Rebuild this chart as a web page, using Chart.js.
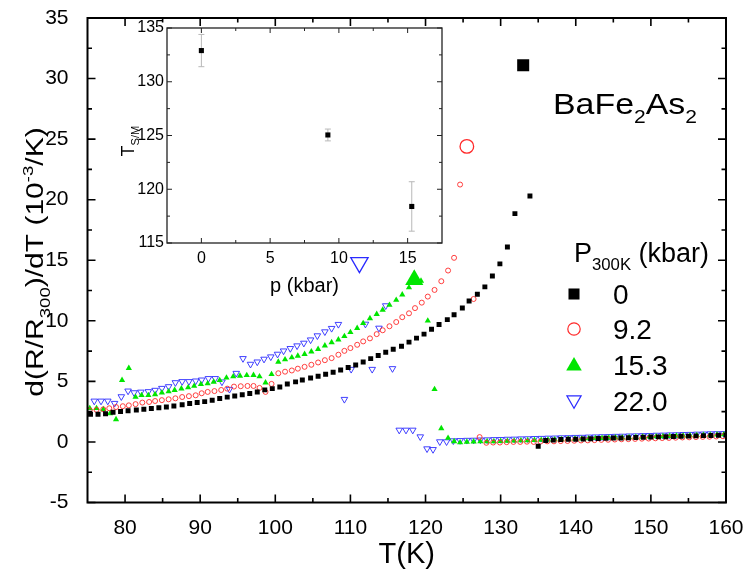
<!DOCTYPE html>
<html>
<head>
<meta charset="utf-8">
<script src="https://cdn.jsdelivr.net/npm/chart.js@4/dist/chart.umd.min.js"></script>
<style>
html,body{margin:0;padding:0;background:#fff;}
#wrap{position:relative;width:747px;height:572px;}
#wrap canvas{position:absolute;left:0;top:0;}
</style>
</head>
<body>
<div id="wrap">
<canvas id="main" width="747" height="572"></canvas>
<canvas id="inset" width="747" height="572"></canvas>
</div>
<script>
// ---------------- data ----------------
const xTicks = [80, 90, 100, 110, 120, 130, 140, 150, 160];
const yTicks = [-5, 0, 5, 10, 15, 20, 25, 30, 35];
const legendLabels = ['0', '9.2', '15.3', '22.0'];

// P = 0 kbar (black squares)
const blackT = [75.4,76.4,77.4,78.4,79.4,80.4,81.5,82.5,83.5,84.5,85.5,86.5,87.6,88.6,89.6,90.6,91.6,92.6,93.6,94.6,95.6,96.6,97.6,98.6,99.6,100.6,101.6,102.7,103.6,104.7,105.7,106.7,107.7,108.7,109.7,110.7,111.7,112.7,113.7,114.7,115.7,116.8,117.8,118.8,119.8,120.8,121.8,122.9,123.8,124.9,125.8,126.9,127.9,128.9,129.9,130.9,131.9,133.9,135.0,136.0,137.0,138.0,139.0,140.0,141.0,142.0,143.0,144.0,145.0,146.0,147.0,148.0,149.0,150.0,151.0,152.0,153.0,154.0,155.0,156.0,157.0,158.0,159.0,160.0];
const blackV = [2.28,2.28,2.33,2.45,2.52,2.58,2.63,2.7,2.76,2.82,2.88,2.97,3.07,3.17,3.25,3.33,3.44,3.58,3.7,3.8,3.9,4.0,4.13,4.3,4.4,4.54,4.78,4.96,5.12,5.28,5.43,5.58,5.75,5.94,6.14,6.36,6.6,6.88,7.14,7.4,7.66,7.9,8.24,8.57,8.9,9.3,9.7,10.1,10.5,11.06,11.64,12.2,12.8,13.7,14.7,16.1,18.85,20.3,-0.35,0.12,0.15,0.2,0.22,0.22,0.25,0.27,0.28,0.3,0.32,0.33,0.35,0.37,0.38,0.4,0.42,0.43,0.45,0.47,0.48,0.5,0.52,0.53,0.55,0.57];

// P = 9.2 kbar (red open circles)
const redT = [75.3,76.2,77.1,77.9,78.8,79.7,80.5,81.4,82.3,83.2,84.0,84.9,85.8,86.7,87.6,88.5,89.4,90.2,91.0,91.9,92.8,93.6,94.5,95.4,96.3,97.1,97.9,98.7,99.5,100.4,101.3,102.2,103.0,103.9,104.8,105.7,106.6,107.5,108.4,109.2,110.0,110.9,111.7,112.6,113.5,114.3,115.2,116.1,116.9,117.8,118.6,119.5,120.3,121.2,122.1,123.0,123.8,124.6,126.4,127.2,128.1,129.0,129.9,130.8,131.7,132.6,133.5,134.4,135.3,136.2,137.1,138.0,138.9,139.8,140.7,141.6,142.5,143.4,144.3,145.2,146.1,147.0,147.9,148.8,149.7,150.6,151.5,152.4,153.3,154.2,155.1,156.0,156.9,157.8,158.7,159.6];
const redV = [2.6,2.65,2.69,2.78,2.88,2.95,3.02,3.12,3.25,3.3,3.38,3.45,3.52,3.6,3.71,3.78,3.85,4.02,4.13,4.2,4.29,4.4,4.57,4.6,4.62,4.62,4.46,4.13,4.79,5.67,5.8,5.9,6.05,6.2,6.37,6.56,6.75,6.92,7.2,7.52,7.75,8.02,8.3,8.55,8.9,9.22,9.55,9.9,10.3,10.62,11.05,11.5,12.0,12.55,13.27,14.15,15.2,21.25,11.8,0.4,-0.07,-0.05,-0.05,-0.02,0.0,0.0,0.02,0.0,0.03,0.05,0.05,0.07,0.08,0.1,0.12,0.13,0.15,0.17,0.18,0.2,0.22,0.23,0.25,0.27,0.28,0.3,0.32,0.33,0.35,0.37,0.38,0.4,0.42,0.43,0.45,0.47];

// P = 15.3 kbar (green filled triangles)
const greenT = [75.3,76.2,77.1,78.0,78.8,79.6,80.5,81.4,82.2,83.1,84.0,84.9,85.8,86.6,87.5,88.4,89.2,90.1,91.0,91.8,92.6,93.5,94.4,95.3,96.2,97.1,97.9,98.7,99.5,100.4,101.3,102.2,103.0,103.9,104.8,105.7,106.6,107.5,108.4,109.2,110.0,110.9,111.7,112.6,113.5,114.3,115.2,116.1,116.9,117.8,118.6,119.4,120.3,121.2,122.1,123.0,123.8,124.6,125.5,126.4,127.3,128.2,129.1,130.0,130.9,131.8,132.7,133.6,134.5,135.4,136.3,137.2,138.1,139.0,139.9,140.8,141.7,142.6,143.5,144.4,145.3,146.2,147.1,148.0,148.9,149.8,150.7,151.6,152.5,153.4,154.3,155.2,156.1,157.0,157.9,158.8,159.7];
const greenV = [2.78,2.78,2.69,2.36,1.86,5.1,6.09,3.71,3.85,3.85,3.93,4.07,4.16,4.27,4.4,4.49,4.62,4.76,4.82,4.96,5.09,5.3,5.4,5.45,5.5,5.51,5.4,4.9,5.59,6.61,6.8,6.97,7.1,7.25,7.45,7.66,7.95,8.22,8.45,8.72,9.05,9.4,9.8,10.2,10.55,10.9,11.3,11.72,12.16,12.75,13.2,13.3,10.0,4.35,1.12,0.32,0.05,-0.05,0.0,0.02,0.03,0.05,0.05,0.07,0.08,0.1,0.12,0.13,0.15,0.16,0.18,0.2,0.21,0.23,0.25,0.26,0.28,0.3,0.31,0.33,0.35,0.36,0.38,0.4,0.41,0.43,0.45,0.46,0.48,0.5,0.51,0.53,0.55,0.56,0.58,0.6,0.61];

// P = 22.0 kbar (blue open down-triangles)
const blueT = [75.9,76.8,77.7,78.6,79.5,80.4,81.2,82.1,83.1,84.0,84.9,85.8,86.7,87.6,88.5,89.4,90.2,91.1,92.0,92.9,93.9,94.8,95.7,96.7,97.6,98.5,99.4,100.3,101.1,102.0,102.9,103.8,104.7,105.6,106.6,107.5,108.4,109.2,110.1,112.0,112.9,113.8,114.7,115.6,116.5,117.4,118.3,119.3,120.2,121.0,121.9,122.8,123.7,124.6,125.5,126.4,127.3,128.2,129.1,130.0,130.9,131.8,132.7,133.6,134.5,135.4,136.3,137.2,138.1,139.0,139.9,140.8,141.7,142.6,143.5,144.4,145.3,146.2,147.1,148.0,148.9,149.8,150.7,151.6,152.5,153.4,154.3,155.2,156.1,157.0,157.9,158.8,159.7];
const blueV = [3.38,3.38,3.38,3.19,3.74,4.21,4.07,4.12,4.16,4.27,4.43,4.57,4.9,4.99,4.99,5.04,5.12,5.24,5.24,4.96,4.35,5.67,6.89,6.42,6.61,6.84,7.03,7.25,7.52,7.72,7.94,8.16,8.43,8.77,9.1,9.38,9.71,3.52,6.0,9.73,6.0,9.4,11.25,6.06,0.98,0.98,0.98,0.43,-0.56,-0.62,0.02,0.02,0.1,0.12,0.14,0.15,0.17,0.18,0.2,0.21,0.23,0.24,0.26,0.27,0.29,0.3,0.32,0.33,0.35,0.36,0.38,0.39,0.41,0.42,0.44,0.45,0.47,0.48,0.5,0.51,0.53,0.54,0.56,0.57,0.59,0.6,0.62,0.63,0.65,0.66,0.68,0.69,0.7];

// large symbols marking the transition of each curve (0, 9.2, 15.3, 22.0 kbar)
const peakT = [133.0, 125.5, 118.5, 111.2];
const peakV = [31.1, 24.4, 13.4, 14.8];

// inset: T_S/M vs p
const insetXTicks = [0, 5, 10, 15];
const insetYTicks = [115, 120, 125, 130, 135];
const insetP = [0, 9.2, 15.3];
const insetTsm = [132.9, 125.05, 118.4];
const insetErr = [1.5, 0.55, 2.3];

// ---------------- helpers ----------------
const FAM = '"Liberation Sans", Arial, Helvetica, sans-serif';
const COL = { black: '#000000', red: '#ff2a2a', green: '#00e600', blue: '#2b2bff' };

function pts(t, v) { return t.map((x, i) => ({ x: x, y: v[i] })); }

// draws text with sub (1) / superscript (2) parts; sx, sy stretch glyphs
function richText(ctx, parts, x, y, size, align, sx, sy) {
  sx = sx || 1; sy = sy || 1;
  let w = 0;
  const m = parts.map(([t, mode]) => {
    const s = mode ? size * 0.62 : size;
    ctx.font = s + 'px ' + FAM;
    const mw = ctx.measureText(t).width;
    w += mw;
    return [t, mode, s, mw];
  });
  ctx.save();
  ctx.translate(x, y);
  ctx.scale(sx, sy);
  let cx = align === 'center' ? -w / 2 : align === 'right' ? -w : 0;
  ctx.textAlign = 'left';
  ctx.textBaseline = 'alphabetic';
  for (const [t, mode, s, mw] of m) {
    ctx.font = s + 'px ' + FAM;
    const dy = mode === 1 ? size * 0.3 : mode === 2 ? -size * 0.4 : 0;
    ctx.fillText(t, cx, dy);
    cx += mw;
  }
  ctx.restore();
}

function marker(ctx, style, x, y, r, fill, stroke, lw) {
  ctx.save();
  ctx.beginPath();
  if (style === 'rect') {
    const h = r * Math.SQRT1_2;
    ctx.rect(x - h, y - h, 2 * h, 2 * h);
  } else if (style === 'circle') {
    ctx.arc(x, y, r, 0, Math.PI * 2);
  } else {
    const dir = style === 'tridown' ? -1 : 1;
    const a0 = -Math.PI / 2 * dir;
    for (let k = 0; k < 3; k++) {
      const a = a0 + k * 2 * Math.PI / 3;
      const px = x + r * Math.cos(a), py = y + r * Math.sin(a);
      if (k === 0) ctx.moveTo(px, py); else ctx.lineTo(px, py);
    }
    ctx.closePath();
  }
  if (fill) { ctx.fillStyle = fill; ctx.fill(); }
  if (stroke) { ctx.strokeStyle = stroke; ctx.lineWidth = lw; ctx.stroke(); }
  ctx.restore();
}

function frameAndTicks(chart, cfg) {
  const { ctx, chartArea: a } = chart;
  const xs = chart.scales.x, ys = chart.scales.y;
  ctx.save();
  ctx.strokeStyle = cfg.color;
  ctx.lineWidth = cfg.tickWidth;
  ctx.beginPath();
  const xt = (v, len) => { const p = xs.getPixelForValue(v); ctx.moveTo(p, a.bottom); ctx.lineTo(p, a.bottom - len); ctx.moveTo(p, a.top); ctx.lineTo(p, a.top + len); };
  const yt = (v, len) => { const p = ys.getPixelForValue(v); ctx.moveTo(a.left, p); ctx.lineTo(a.left + len, p); ctx.moveTo(a.right, p); ctx.lineTo(a.right - len, p); };
  cfg.xMajor.forEach(v => xt(v, cfg.major));
  cfg.yMajor.forEach(v => yt(v, cfg.major));
  for (let i = 0; i < cfg.xMajor.length; i++) {
    const v = cfg.xMajor[i] - cfg.xStep / 2;
    if (v > xs.min && v < xs.max) xt(v, cfg.minor);
  }
  const lastX = cfg.xMajor[cfg.xMajor.length - 1] + cfg.xStep / 2;
  if (lastX < xs.max) xt(lastX, cfg.minor);
  for (let i = 0; i < cfg.yMajor.length; i++) {
    const v = cfg.yMajor[i] + cfg.yStep / 2;
    if (v > ys.min && v < ys.max) yt(v, cfg.minor);
  }
  ctx.stroke();
  ctx.lineWidth = cfg.frameWidth;
  ctx.strokeRect(a.left, a.top, a.right - a.left, a.bottom - a.top);
  ctx.restore();
}

// ---------------- main chart ----------------
const mainPlugin = {
  id: 'mainDecor',
  afterDraw(chart) {
    const ctx = chart.ctx;
    frameAndTicks(chart, { color: '#000', tickWidth: 1.6, frameWidth: 2, major: 8, minor: 4.5,
      xMajor: xTicks, yMajor: yTicks, xStep: 10, yStep: 5 });
    ctx.save();
    ctx.fillStyle = '#000';
    // x title
    richText(ctx, [['T(K)', 0]], (chart.chartArea.left + chart.chartArea.right) / 2, 563, 29, 'center');
    // y title
    ctx.save();
    ctx.translate(43, 262);
    ctx.rotate(-Math.PI / 2);
    richText(ctx, [['d(R/R', 0], ['300', 1], [')/dT (10', 0], ['-3', 2], ['/K)', 0]], 0, 0, 30, 'center', 1, 0.8);
    ctx.restore();
    // compound label
    richText(ctx, [['BaFe', 0], ['2', 1], ['As', 0], ['2', 1]], 553, 114, 30, 'left', 1.13, 1);
    // legend
    richText(ctx, [['P', 0], ['300K', 1], [' (kbar)', 0]], 574, 262, 27, 'left');
    const lx = 574, ly = [294, 329, 365, 401];
    marker(ctx, 'rect', lx, ly[0], 7.8, COL.black, null, 0);
    marker(ctx, 'circle', lx, ly[1], 6.2, null, COL.red, 1.2);
    marker(ctx, 'tri', lx, ly[2] + 1, 9, COL.green, null, 0);
    marker(ctx, 'tridown', lx, ly[3] - 1, 8.2, null, COL.blue, 1.2);
    ctx.fillStyle = '#000';
    legendLabels.forEach((t, i) => richText(ctx, [[t, 0]], 613, ly[i] + 10, 28, 'left'));
    ctx.restore();
  }
};

new Chart(document.getElementById('main'), {
  type: 'scatter',
  data: {
    datasets: [
      { label: '0', data: pts(blackT, blackV), pointStyle: 'rect', pointRadius: 3.5, backgroundColor: COL.black, borderColor: COL.black, borderWidth: 0 },
      { label: '9.2', data: pts(redT, redV), pointStyle: 'circle', pointRadius: 2.5, backgroundColor: 'rgba(0,0,0,0)', borderColor: COL.red, borderWidth: 0.9 },
      { label: '15.3', data: pts(greenT, greenV), pointStyle: 'triangle', pointRadius: 3.6, backgroundColor: COL.green, borderColor: COL.green, borderWidth: 0 },
      { label: '22.0', data: pts(blueT, blueV), pointStyle: 'triangle', rotation: 180, pointRadius: 3.8, backgroundColor: 'rgba(0,0,0,0)', borderColor: COL.blue, borderWidth: 0.9 },
      { label: 'peaks', data: pts(peakT, peakV),
        pointStyle: ['rect', 'circle', 'triangle', 'triangle'],
        rotation: [0, 0, 0, 180],
        pointRadius: [8.5, 6.8, 10.5, 10],
        backgroundColor: [COL.black, 'rgba(0,0,0,0)', COL.green, 'rgba(0,0,0,0)'],
        borderColor: [COL.black, COL.red, COL.green, COL.blue],
        borderWidth: [0, 1.3, 0, 1.3] }
    ]
  },
  options: {
    responsive: false,
    animation: false,
    events: [],
    layout: { padding: { top: 18, right: 21, left: 0, bottom: 0 } },
    plugins: { legend: { display: false }, tooltip: { enabled: false } },
    scales: {
      x: {
        type: 'linear', min: 75, max: 160,
        grid: { display: false, drawTicks: false }, border: { display: false },
        afterBuildTicks: s => { s.ticks = xTicks.map(v => ({ value: v })); },
        afterFit: s => { s.height = 69.5; s.paddingLeft = 0; s.paddingRight = 0; },
        ticks: { color: '#000', font: { family: FAM, size: 21 }, padding: 13, maxRotation: 0, autoSkip: false }
      },
      y: {
        type: 'linear', min: -5, max: 35,
        grid: { display: false, drawTicks: false }, border: { display: false },
        afterBuildTicks: s => { s.ticks = yTicks.map(v => ({ value: v })); },
        afterFit: s => { s.width = 87.5; s.paddingTop = 0; s.paddingBottom = 0; },
        ticks: { color: '#000', font: { family: FAM, size: 21 }, padding: 19, autoSkip: false }
      }
    }
  },
  plugins: [mainPlugin]
});

// ---------------- inset chart ----------------
const insetPlugin = {
  id: 'insetDecor',
  beforeDraw(chart) {
    const { ctx, chartArea: a } = chart;
    ctx.save();
    ctx.fillStyle = '#fff';
    ctx.fillRect(a.left, a.top, a.right - a.left, a.bottom - a.top);
    ctx.restore();
  },
  beforeDatasetsDraw(chart) {
    const { ctx } = chart;
    const xs = chart.scales.x, ys = chart.scales.y;
    ctx.save();
    ctx.strokeStyle = '#b8b8b8';
    ctx.lineWidth = 1;
    ctx.beginPath();
    insetP.forEach((p, i) => {
      const x = xs.getPixelForValue(p);
      const y1 = ys.getPixelForValue(insetTsm[i] - insetErr[i]);
      const y2 = ys.getPixelForValue(insetTsm[i] + insetErr[i]);
      ctx.moveTo(x, y1); ctx.lineTo(x, y2);
      ctx.moveTo(x - 3, y1); ctx.lineTo(x + 3, y1);
      ctx.moveTo(x - 3, y2); ctx.lineTo(x + 3, y2);
    });
    ctx.stroke();
    ctx.restore();
  },
  afterDraw(chart) {
    const ctx = chart.ctx;
    frameAndTicks(chart, { color: '#222', tickWidth: 1, frameWidth: 1.3, major: 5, minor: 3,
      xMajor: insetXTicks, yMajor: insetYTicks, xStep: 5, yStep: 5 });
    ctx.save();
    ctx.fillStyle = '#000';
    const a = chart.chartArea;
    richText(ctx, [['p (kbar)', 0]], (a.left + a.right) / 2, 292, 20, 'center');
    ctx.translate(134, 141);
    ctx.rotate(-Math.PI / 2);
    richText(ctx, [['T', 0], ['S/M', 1]], 0, 0, 18, 'center');
    ctx.restore();
  }
};

new Chart(document.getElementById('inset'), {
  type: 'scatter',
  data: {
    datasets: [
      { label: 'Ts/m', data: pts(insetP, insetTsm), pointStyle: 'rect', pointRadius: 3.6, backgroundColor: '#000', borderColor: '#000', borderWidth: 0 }
    ]
  },
  options: {
    responsive: false,
    animation: false,
    events: [],
    layout: { padding: { top: 28, right: 305, left: 0, bottom: 0 } },
    plugins: { legend: { display: false }, tooltip: { enabled: false } },
    scales: {
      x: {
        type: 'linear', min: -2.5, max: 17.5,
        grid: { display: false, drawTicks: false }, border: { display: false },
        afterBuildTicks: s => { s.ticks = insetXTicks.map(v => ({ value: v })); },
        afterFit: s => { s.height = 329; s.paddingLeft = 0; s.paddingRight = 0; },
        ticks: { color: '#000', font: { family: FAM, size: 16 }, padding: 6, maxRotation: 0, autoSkip: false }
      },
      y: {
        type: 'linear', min: 115, max: 135,
        grid: { display: false, drawTicks: false }, border: { display: false },
        afterBuildTicks: s => { s.ticks = insetYTicks.map(v => ({ value: v })); },
        afterFit: s => { s.width = 167; s.paddingTop = 0; s.paddingBottom = 0; },
        ticks: { color: '#000', font: { family: FAM, size: 16 }, padding: 3, autoSkip: false }
      }
    }
  },
  plugins: [insetPlugin]
});
</script>
</body>
</html>
